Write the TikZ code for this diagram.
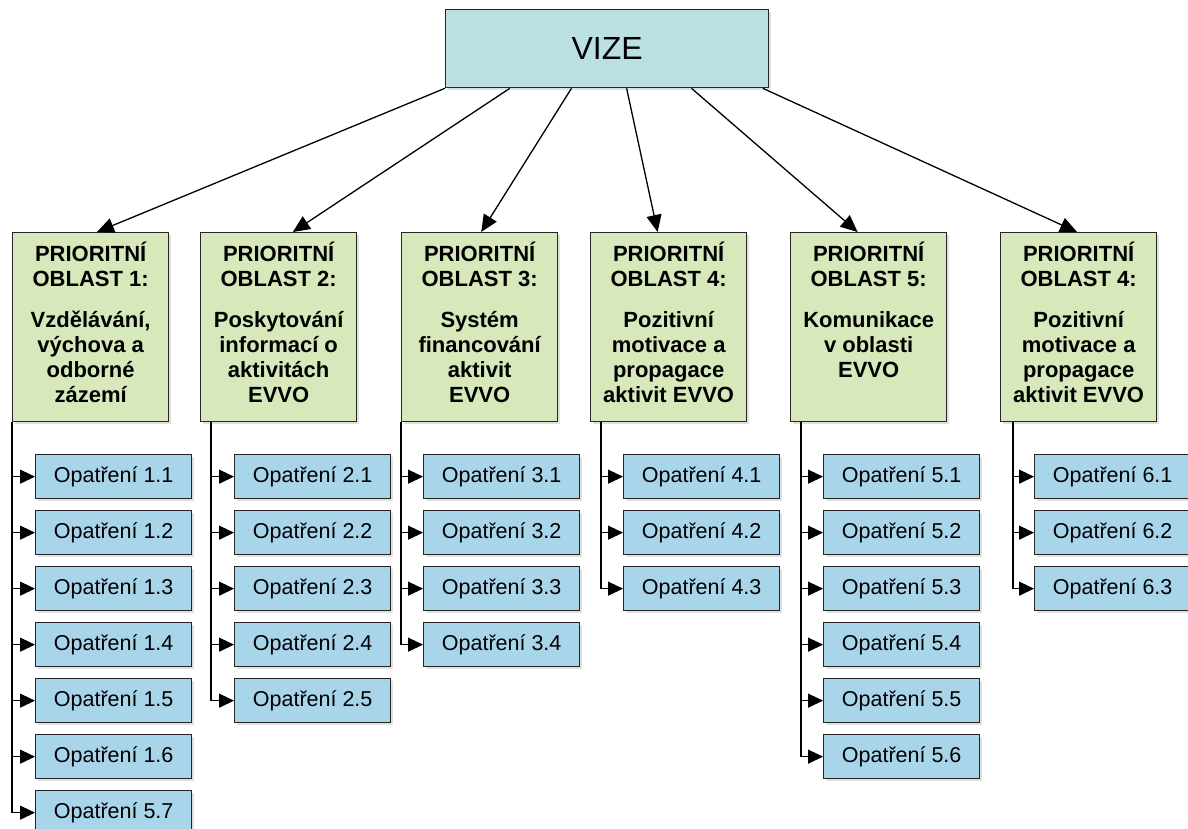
\documentclass[tikz,border=0pt]{standalone}
\usepackage{fontspec}
\setmainfont{Liberation Sans}
\usetikzlibrary{positioning, calc, arrows.meta, shadows}
\definecolor{vizecol}{RGB}{187, 224, 227}
\definecolor{oblastcol}{RGB}{215, 233, 186}
\definecolor{opatcol}{RGB}{169, 213, 235}

\newcommand{\oblasttext}[2]{\parbox[c][170pt][t]{156pt}{\centering PRIORITNÍ\\ OBLAST #1:\\[16pt] #2}}

\tikzset{
    box/.style={draw=black!85, line width=1.3pt, inner sep=0pt, anchor=north west,
        drop shadow={shadow xshift=2pt, shadow yshift=-2pt, fill=black!30, opacity=0.4}},
    vize/.style={box, fill=vizecol, minimum width=323pt, minimum height=78pt,
        font=\fontsize{32}{36}\selectfont},
    oblast/.style={box, fill=oblastcol, minimum width=156pt, minimum height=189pt,
        font=\fontsize{22}{25}\selectfont\bfseries},
    opat/.style={box, fill=opatcol, minimum width=156pt, minimum height=44pt,
        font=\fontsize{21.5}{24}\selectfont},
    link/.style={-{Triangle[length=17pt, width=15pt]}, line width=1.3pt},
    sub/.style={-{Triangle[length=15pt, width=14pt]}, line width=1.3pt},
}

\begin{document}
\begin{tikzpicture}[x=1pt, y=-1pt]

        \useasboundingbox (0, 0) rectangle (1188, 828);

        % Top
        \node[vize] (vize) at (445, 9) {VIZE};

        % Priority areas
        \node[oblast] (ob1) at (12, 232) {\oblasttext{1}{Vzdělávání,\\ výchova a\\ odborné\\ zázemí}};
        \node[oblast] (ob2) at (200, 232) {\oblasttext{2}{Poskytování\\ informací o\\ aktivitách\\ EVVO}};
        \node[oblast] (ob3) at (401, 232) {\oblasttext{3}{Systém\\ financování\\ aktivit\\ EVVO}};
        \node[oblast] (ob4) at (590, 232) {\oblasttext{4}{Pozitivní\\ motivace a\\ propagace\\ aktivit EVVO}};
        \node[oblast] (ob5) at (790, 232) {\oblasttext{5}{Komunikace\\ v oblasti\\ EVVO}};
        \node[oblast] (ob6) at (1000, 232) {\oblasttext{4}{Pozitivní\\ motivace a\\ propagace\\ aktivit EVVO}};

        \draw[link] (vize.south west) -- ($(ob1.north west)!0.54!(ob1.north east)$);
        \draw[link] ($(vize.south west)!0.2!(vize.south east)$) -- ($(ob2.north west)!0.59!(ob2.north east)$);
        \draw[link] ($(vize.south west)!0.39!(vize.south east)$) -- ($(ob3.north west)!0.51!(ob3.north east)$);
        \draw[link] ($(vize.south west)!0.56!(vize.south east)$) -- ($(ob4.north west)!0.43!(ob4.north east)$);
        \draw[link] ($(vize.south west)!0.76!(vize.south east)$) -- ($(ob5.north west)!0.43!(ob5.north east)$);
        \draw[link] ($(vize.south west)!0.98!(vize.south east)$) -- ($(ob6.north west)!0.49!(ob6.north east)$);

        % Column 1
        \node[opat] (op11) at (35, 454) {Opatření 1.1};
        \node[opat] (op12) at (35, 510) {Opatření 1.2};
        \node[opat] (op13) at (35, 566) {Opatření 1.3};
        \node[opat] (op14) at (35, 622) {Opatření 1.4};
        \node[opat] (op15) at (35, 678) {Opatření 1.5};
        \node[opat] (op16) at (35, 734) {Opatření 1.6};
        \node[opat] (op17) at (35, 790) {Opatření 5.7};

        \draw[sub] (ob1.south west) |- (op11.west);
        \draw[sub] (ob1.south west) |- (op12.west);
        \draw[sub] (ob1.south west) |- (op13.west);
        \draw[sub] (ob1.south west) |- (op14.west);
        \draw[sub] (ob1.south west) |- (op15.west);
        \draw[sub] (ob1.south west) |- (op16.west);
        \draw[sub] (ob1.south west) |- (op17.west);

        % Column 2
        \node[opat] (op21) at (234, 454) {Opatření 2.1};
        \node[opat] (op22) at (234, 510) {Opatření 2.2};
        \node[opat] (op23) at (234, 566) {Opatření 2.3};
        \node[opat] (op24) at (234, 622) {Opatření 2.4};
        \node[opat] (op25) at (234, 678) {Opatření 2.5};

        \draw[sub] ([xshift=11pt]ob2.south west) |- (op21.west);
        \draw[sub] ([xshift=11pt]ob2.south west) |- (op22.west);
        \draw[sub] ([xshift=11pt]ob2.south west) |- (op23.west);
        \draw[sub] ([xshift=11pt]ob2.south west) |- (op24.west);
        \draw[sub] ([xshift=11pt]ob2.south west) |- (op25.west);

        % Column 3
        \node[opat] (op31) at (423, 454) {Opatření 3.1};
        \node[opat] (op32) at (423, 510) {Opatření 3.2};
        \node[opat] (op33) at (423, 566) {Opatření 3.3};
        \node[opat] (op34) at (423, 622) {Opatření 3.4};

        \draw[sub] (ob3.south west) |- (op31.west);
        \draw[sub] (ob3.south west) |- (op32.west);
        \draw[sub] (ob3.south west) |- (op33.west);
        \draw[sub] (ob3.south west) |- (op34.west);

        % Column 4
        \node[opat] (op41) at (623, 454) {Opatření 4.1};
        \node[opat] (op42) at (623, 510) {Opatření 4.2};
        \node[opat] (op43) at (623, 566) {Opatření 4.3};

        \draw[sub] ([xshift=11pt]ob4.south west) |- (op41.west);
        \draw[sub] ([xshift=11pt]ob4.south west) |- (op42.west);
        \draw[sub] ([xshift=11pt]ob4.south west) |- (op43.west);

        % Column 5
        \node[opat] (op51) at (823, 454) {Opatření 5.1};
        \node[opat] (op52) at (823, 510) {Opatření 5.2};
        \node[opat] (op53) at (823, 566) {Opatření 5.3};
        \node[opat] (op54) at (823, 622) {Opatření 5.4};
        \node[opat] (op55) at (823, 678) {Opatření 5.5};
        \node[opat] (op56) at (823, 734) {Opatření 5.6};

        \draw[sub] ([xshift=11pt]ob5.south west) |- (op51.west);
        \draw[sub] ([xshift=11pt]ob5.south west) |- (op52.west);
        \draw[sub] ([xshift=11pt]ob5.south west) |- (op53.west);
        \draw[sub] ([xshift=11pt]ob5.south west) |- (op54.west);
        \draw[sub] ([xshift=11pt]ob5.south west) |- (op55.west);
        \draw[sub] ([xshift=11pt]ob5.south west) |- (op56.west);

        % Column 6
        \node[opat] (op61) at (1034, 454) {Opatření 6.1};
        \node[opat] (op62) at (1034, 510) {Opatření 6.2};
        \node[opat] (op63) at (1034, 566) {Opatření 6.3};

        \draw[sub] ([xshift=13pt]ob6.south west) |- (op61.west);
        \draw[sub] ([xshift=13pt]ob6.south west) |- (op62.west);
        \draw[sub] ([xshift=13pt]ob6.south west) |- (op63.west);

\end{tikzpicture}
\end{document}
